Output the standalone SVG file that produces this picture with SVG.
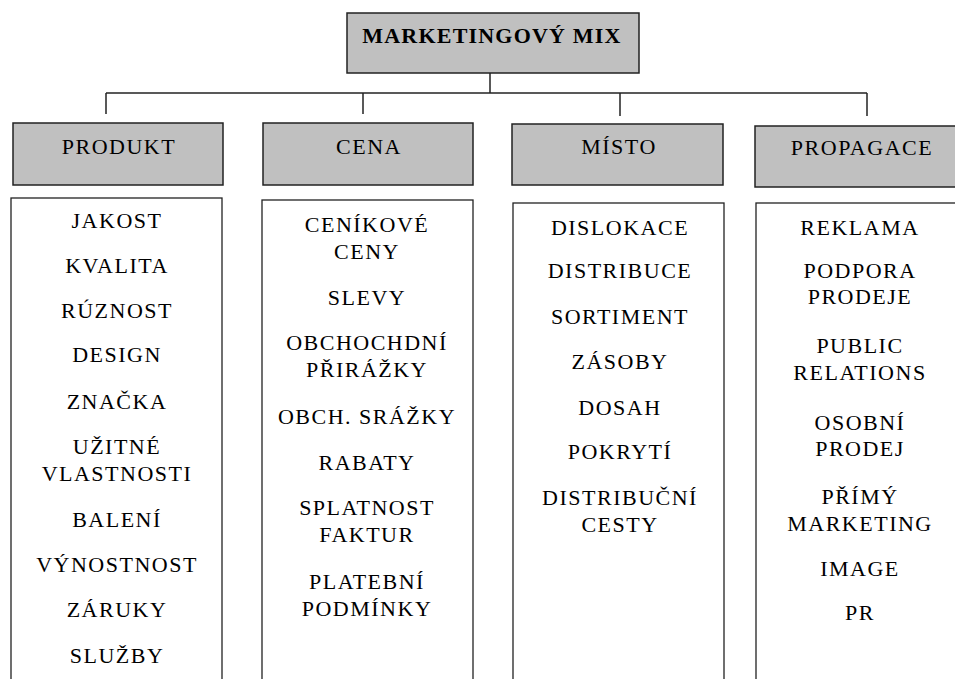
<svg xmlns="http://www.w3.org/2000/svg" width="955" height="679" viewBox="0 0 955 679">
<style>
.hdr{fill:#c0c0c0;stroke:#222;stroke-width:1.5}
.lst{fill:#fff;stroke:#222;stroke-width:1.3}
.t{font-family:"Liberation Serif","Times New Roman",serif;font-size:22px;letter-spacing:1.5px;fill:#000;text-anchor:middle}
.ttl{font-family:"Liberation Serif","Times New Roman",serif;font-size:22px;font-weight:bold;letter-spacing:1.2px;fill:#000;text-anchor:middle}
.c{stroke:#222;stroke-width:1.5;fill:none}
</style>
<rect width="955" height="679" fill="#fff"/>
<g id="connectors">
<line class="c" x1="490" y1="73" x2="490" y2="93"/>
<line class="c" x1="106" y1="93" x2="867" y2="93"/>
<line class="c" x1="106" y1="93" x2="106" y2="114"/>
<line class="c" x1="363" y1="93" x2="363" y2="114"/>
<line class="c" x1="620" y1="93" x2="620" y2="116"/>
<line class="c" x1="867" y1="93" x2="867" y2="116"/>
</g>
<g id="mix">
<rect class="hdr" x="347" y="13" width="292" height="60"/>
<text class="ttl" x="492" y="43">MARKETINGOVÝ MIX</text>
</g>
<g id="produkt">
<rect class="hdr" x="13" y="123" width="210" height="62"/>
<text class="t" x="119" y="154">PRODUKT</text>
</g>
<g id="cena">
<rect class="hdr" x="263" y="123" width="210" height="62"/>
<text class="t" x="369" y="154">CENA</text>
</g>
<g id="misto">
<rect class="hdr" x="512" y="124" width="211" height="61"/>
<text class="t" x="619" y="154">MÍSTO</text>
</g>
<g id="propagace">
<rect class="hdr" x="755" y="126" width="212" height="61"/>
<text class="t" x="862" y="155">PROPAGACE</text>
</g>
<g id="produkt-list">
<rect class="lst" x="11" y="198" width="211" height="500"/>
<text class="t" x="117" y="228">JAKOST</text>
<text class="t" x="117" y="273">KVALITA</text>
<text class="t" x="117" y="318">RÚZNOST</text>
<text class="t" x="117" y="362">DESIGN</text>
<text class="t" x="117" y="409">ZNAČKA</text>
<text class="t" x="117" y="454">UŽITNÉ</text>
<text class="t" x="117" y="481">VLASTNOSTI</text>
<text class="t" x="117" y="527">BALENÍ</text>
<text class="t" x="117" y="572">VÝNOSTNOST</text>
<text class="t" x="117" y="617">ZÁRUKY</text>
<text class="t" x="117" y="663">SLUŽBY</text>
</g>
<g id="cena-list">
<rect class="lst" x="262" y="200" width="211" height="500"/>
<text class="t" x="367" y="232">CENÍKOVÉ</text>
<text class="t" x="367" y="259">CENY</text>
<text class="t" x="367" y="305">SLEVY</text>
<text class="t" x="367" y="350">OBCHOCHDNÍ</text>
<text class="t" x="367" y="377">PŘIRÁŽKY</text>
<text class="t" x="367" y="424">OBCH. SRÁŽKY</text>
<text class="t" x="367" y="470">RABATY</text>
<text class="t" x="367" y="515">SPLATNOST</text>
<text class="t" x="367" y="542">FAKTUR</text>
<text class="t" x="367" y="589">PLATEBNÍ</text>
<text class="t" x="367" y="616">PODMÍNKY</text>
</g>
<g id="misto-list">
<rect class="lst" x="513" y="203" width="211" height="500"/>
<text class="t" x="620" y="235">DISLOKACE</text>
<text class="t" x="620" y="278">DISTRIBUCE</text>
<text class="t" x="620" y="324">SORTIMENT</text>
<text class="t" x="620" y="369">ZÁSOBY</text>
<text class="t" x="620" y="415">DOSAH</text>
<text class="t" x="620" y="459">POKRYTÍ</text>
<text class="t" x="620" y="505">DISTRIBUČNÍ</text>
<text class="t" x="620" y="532">CESTY</text>
</g>
<g id="propagace-list">
<rect class="lst" x="756" y="203" width="211" height="500"/>
<text class="t" x="860" y="235">REKLAMA</text>
<text class="t" x="860" y="278">PODPORA</text>
<text class="t" x="860" y="304">PRODEJE</text>
<text class="t" x="860" y="353">PUBLIC</text>
<text class="t" x="860" y="380">RELATIONS</text>
<text class="t" x="860" y="430">OSOBNÍ</text>
<text class="t" x="860" y="456">PRODEJ</text>
<text class="t" x="860" y="504">PŘÍMÝ</text>
<text class="t" x="860" y="531">MARKETING</text>
<text class="t" x="860" y="576">IMAGE</text>
<text class="t" x="860" y="620">PR</text>
</g>
</svg>
